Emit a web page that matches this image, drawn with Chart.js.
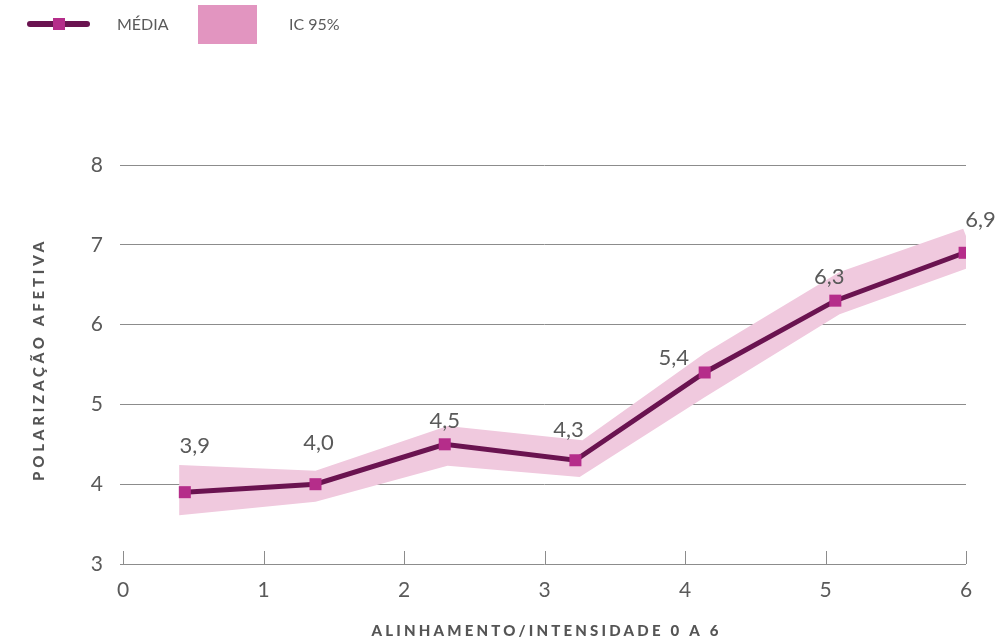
<!DOCTYPE html>
<html lang="pt">
<head>
<meta charset="utf-8">
<title>Polarização afetiva por alinhamento</title>
<script src="https://cdn.jsdelivr.net/npm/chart.js@4.4.1/dist/chart.umd.min.js"></script>
<style>
  html, body { margin: 0; padding: 0; background: #ffffff; }
  #wrap { position: relative; width: 997px; height: 641px; }
  #chart { position: absolute; left: 0; top: 0; }
  .legend { position: absolute; font-family: Lato, "Open Sans", sans-serif; color: #5a5a5a; }
  .lg-line { position: absolute; left: 27px; top: 21px; width: 63px; height: 6px; border-radius: 3px; background: #6a1350; }
  .lg-mark { position: absolute; left: 53px; top: 18px; width: 12px; height: 12px; background: #b52d8a; }
  .lg-text { position: absolute; top: 14px; font-size: 16px; line-height: 20px; white-space: nowrap; }
  .lg-box { position: absolute; left: 198px; top: 5px; width: 59px; height: 39px; background: #e295c0; }
</style>
</head>
<body>
<div id="wrap">
  <canvas id="chart" width="997" height="641"></canvas>
  <div class="legend">
    <div class="lg-line"></div>
    <div class="lg-mark"></div>
    <div class="lg-text" style="left:117px">MÉDIA</div>
    <div class="lg-box"></div>
    <div class="lg-text" style="left:289px">IC 95%</div>
  </div>
</div>
<script>
// Mean affective polarization by alignment/intensity level
const meanX = [0.44, 1.37, 2.29, 3.22, 4.14, 5.07, 5.99];
const meanY = [3.9, 4.0, 4.5, 4.3, 5.4, 6.3, 6.9];

// 95% confidence band: upper edge left to right, lower edge right to left
const bandUpperX = [0.40, 1.37, 2.31, 3.27, 4.14, 5.10, 5.98];
const bandUpperY = [4.24, 4.17, 4.73, 4.55, 5.64, 6.66, 7.20];
const bandLowerX = [6.08, 5.10, 4.14, 3.25, 2.31, 1.37, 0.40];
const bandLowerY = [6.75, 6.13, 5.09, 4.09, 4.23, 3.78, 3.61];

const xTicks = [0, 1, 2, 3, 4, 5, 6];
const yTicks = [3, 4, 5, 6, 7, 8];
const xTitle = 'ALINHAMENTO/INTENSIDADE 0 A 6';
const yTitle = 'POLARIZAÇÃO AFETIVA';

// label placement around each marker (pixels)
const labelShift = [[10, -46], [3, -41], [0, -23], [-7, -30], [-31, -15], [-6, -24], [16, -33]];

const FONT = 'Lato, "Open Sans", sans-serif';
const TEXT = '#5a5a5a';
const GRID = '#8c8c8c';

const meanPoints = meanX.map((x, i) => ({ x, y: meanY[i] }));
const bandPoints = bandUpperX.map((x, i) => ({ x, y: bandUpperY[i] }))
  .concat(bandLowerX.map((x, i) => ({ x, y: bandLowerY[i] })));

const fmt = v => v.toFixed(1).replace('.', ',');

const decorations = {
  id: 'decorations',
  afterDatasetsDraw(chart) {
    const { ctx, chartArea, scales } = chart;
    const xs = scales.x, ys = scales.y;
    ctx.save();
    // upward tick marks on the horizontal axis
    ctx.strokeStyle = GRID;
    ctx.lineWidth = 1;
    const base = ys.getPixelForValue(3);
    xTicks.forEach(t => {
      const px = Math.round(xs.getPixelForValue(t)) + 0.5;
      ctx.beginPath();
      ctx.moveTo(px, base);
      ctx.lineTo(px, base - 13);
      ctx.stroke();
    });
    // value labels above the markers
    ctx.fillStyle = TEXT;
    ctx.font = '22px ' + FONT;
    ctx.textAlign = 'center';
    ctx.textBaseline = 'middle';
    const meta = chart.getDatasetMeta(0);
    meta.data.forEach((pt, i) => {
      const [dx, dy] = labelShift[i];
      ctx.fillText(fmt(meanY[i]), pt.x + dx, pt.y + dy);
    });
    // axis titles, letter-spaced
    ctx.fillStyle = '#555555';
    ctx.font = '900 15px ' + FONT;
    ctx.letterSpacing = '3.2px';
    ctx.textBaseline = 'middle';
    const cx = (chartArea.left + chartArea.right) / 2;
    ctx.fillText(xTitle, cx + 2, 631);
    ctx.translate(39, (chartArea.top + chartArea.bottom) / 2 - 3);
    ctx.rotate(-Math.PI / 2);
    ctx.letterSpacing = '3.8px';
    ctx.fillText(yTitle, 2, 0);
    ctx.restore();
  }
};

new Chart(document.getElementById('chart'), {
  type: 'line',
  data: {
    datasets: [
      {
        label: 'MÉDIA',
        data: meanPoints,
        borderColor: '#6a1350',
        borderWidth: 5,
        pointStyle: 'rect',
        pointRadius: 8.5,
        pointBackgroundColor: '#b52d8a',
        pointBorderWidth: 0,
        tension: 0,
        fill: false
      },
      {
        label: 'IC 95%',
        data: bandPoints,
        borderWidth: 0,
        pointRadius: 0,
        backgroundColor: '#f0c9de',
        fill: 'shape',
        tension: 0,
        clip: false
      }
    ]
  },
  options: {
    responsive: false,
    animation: false,
    events: [],
    layout: { padding: { top: 165, right: 31, left: 0, bottom: 0 } },
    plugins: { legend: { display: false }, tooltip: { enabled: false } },
    scales: {
      x: {
        type: 'linear',
        min: 0,
        max: 6,
        afterBuildTicks: s => { s.ticks = xTicks.map(v => ({ value: v })); },
        afterFit: s => { s.height = 77; },
        grid: { display: false },
        border: { display: false },
        ticks: { color: TEXT, font: { family: FONT, size: 21 }, padding: 6, maxRotation: 0 }
      },
      y: {
        min: 3,
        max: 8,
        afterBuildTicks: s => { s.ticks = yTicks.map(v => ({ value: v })); },
        afterFit: s => { s.width = 123; },
        grid: { color: GRID, lineWidth: 1, drawTicks: true, tickLength: 3 },
        border: { display: false },
        ticks: { color: TEXT, font: { family: FONT, size: 21 }, padding: 17 }
      }
    }
  },
  plugins: [decorations]
});
</script>
</body>
</html>
